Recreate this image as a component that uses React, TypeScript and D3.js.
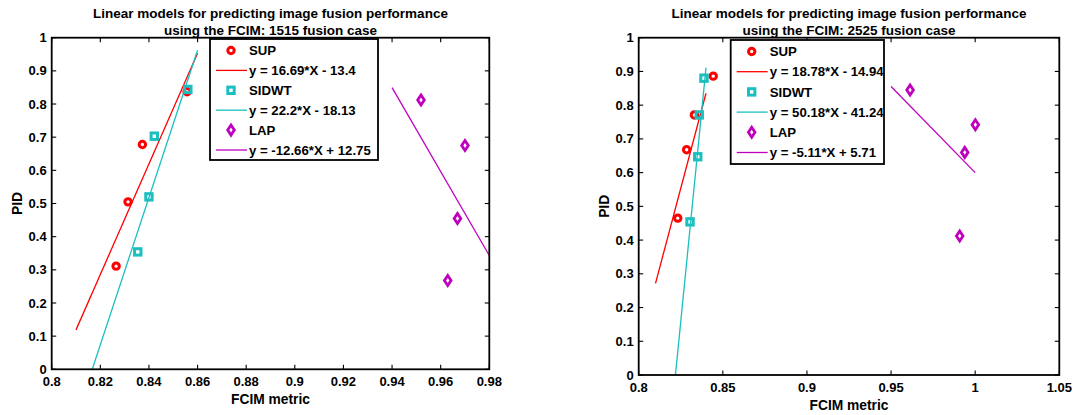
import React from "react";
import * as d3 from "d3";

// ---- data ----
const seriesNames = ["SUP", "SIDWT", "LAP"];
const seriesColors = ["#ff0000", "#1cbfbf", "#bf00bf"];

// Left chart (1515 fusion case)
const leftSupX = [0.8265, 0.8314, 0.8373, 0.8557];
const leftSupY = [0.311, 0.505, 0.678, 0.837];
const leftSidwtX = [0.8354, 0.840, 0.8422, 0.856];
const leftSidwtY = [0.354, 0.520, 0.703, 0.844];
const leftLapX = [0.9519, 0.9629, 0.9669, 0.970];
const leftLapY = [0.812, 0.268, 0.455, 0.675];
const leftFits = [
  { slope: 16.69, intercept: -13.4, x0: 0.81, x1: 0.86, label: "y = 16.69*X - 13.4" },
  { slope: 22.2, intercept: -18.13, x0: 0.81, x1: 0.86, label: "y = 22.2*X - 18.13" },
  { slope: -12.66, intercept: 12.75, x0: 0.94, x1: 0.98, label: "y = -12.66*X + 12.75" },
];
const leftXTicks = [0.8, 0.82, 0.84, 0.86, 0.88, 0.9, 0.92, 0.94, 0.96, 0.98];

// Right chart (2525 fusion case)
const rightSupX = [0.8232, 0.8285, 0.8331, 0.8443];
const rightSupY = [0.465, 0.668, 0.771, 0.886];
const rightSidwtX = [0.8305, 0.8351, 0.836, 0.8388];
const rightSidwtY = [0.454, 0.647, 0.771, 0.880];
const rightLapX = [0.9613, 0.9908, 0.9938, 1.0001];
const rightLapY = [0.845, 0.412, 0.660, 0.742];
const rightFits = [
  { slope: 18.78, intercept: -14.94, x0: 0.81, x1: 0.84, label: "y = 18.78*X - 14.94" },
  { slope: 50.18, intercept: -41.24, x0: 0.81, x1: 0.84, label: "y = 50.18*X - 41.24" },
  { slope: -5.11, intercept: 5.71, x0: 0.95, x1: 1.0, label: "y = -5.11*X + 5.71" },
];
const rightXTicks = [0.8, 0.85, 0.9, 0.95, 1, 1.05];

const yTicks = [0, 0.1, 0.2, 0.3, 0.4, 0.5, 0.6, 0.7, 0.8, 0.9, 1];

const FONT = "'Liberation Sans', Arial, sans-serif";

function Marker({ kind, x, y, color }: { kind: number; x: number; y: number; color: string }) {
  if (kind === 0) return <circle cx={x} cy={y} r={3.2} fill="none" stroke={color} strokeWidth={3} />;
  if (kind === 1) return <rect x={x - 3.2} y={y - 3.2} width={6.4} height={6.4} fill="none" stroke={color} strokeWidth={3} />;
  return (
    <path
      d={`M${x},${y - 5}L${x + 3.3},${y}L${x},${y + 5}L${x - 3.3},${y}Z`}
      fill="none"
      stroke={color}
      strokeWidth={2.8}
    />
  );
}

function Chart(props: {
  id: string;
  x0: number; x1: number; y0: number; y1: number;
  xDomain: [number, number];
  xTicks: number[];
  pts: [number[], number[]][];
  fits: typeof leftFits;
  titleLines: string[];
  legend: { x: number; y: number; w: number; h: number; row: number };
}) {
  const { id, x0, x1, y0, y1, xDomain, xTicks, pts, fits, titleLines, legend } = props;
  const xs = d3.scaleLinear().domain(xDomain).range([x0, x1]);
  const ys = d3.scaleLinear().domain([0, 1]).range([y0, y1]);
  const cx = (x0 + x1) / 2;
  const cy = (y0 + y1) / 2;
  const tl = 4.5;
  return (
    <g>
      <defs>
        <clipPath id={id}>
          <rect x={x0} y={y1} width={x1 - x0} height={y0 - y1} />
        </clipPath>
      </defs>
      {titleLines.map((t, i) => (
        <text key={i} x={cx} y={18.3 + i * 16.5} textAnchor="middle" fontFamily={FONT} fontWeight="bold" fontSize={13.5}>
          {t}
        </text>
      ))}
      {/* fit lines */}
      <g clipPath={`url(#${id})`}>
        {fits.map((f, i) => {
          const path = d3
            .line<number>()
            .x((v) => xs(v))
            .y((v) => ys(f.slope * v + f.intercept))([f.x0, f.x1]);
          return <path key={i} d={path || ""} fill="none" stroke={seriesColors[i]} strokeWidth={1.3} />;
        })}
      </g>
      {/* markers */}
      {pts.map(([px, py], si) =>
        px.map((v, j) => <Marker key={si + "-" + j} kind={si} x={xs(v)} y={ys(py[j])} color={seriesColors[si]} />)
      )}
      {/* axes box */}
      <rect x={x0} y={y1} width={x1 - x0} height={y0 - y1} fill="none" stroke="#000" strokeWidth={1.8} />
      {xTicks.map((t, i) => (
        <g key={"xt" + i}>
          <line x1={xs(t)} x2={xs(t)} y1={y0} y2={y0 - tl} stroke="#000" strokeWidth={1.1} />
          <line x1={xs(t)} x2={xs(t)} y1={y1} y2={y1 + tl} stroke="#000" strokeWidth={1.1} />
          <text x={xs(t)} y={y0 + 17} textAnchor="middle" fontFamily={FONT} fontWeight="bold" fontSize={13}>
            {d3.format("~g")(t)}
          </text>
        </g>
      ))}
      {yTicks.map((t, i) => (
        <g key={"yt" + i}>
          <line x1={x0} x2={x0 + tl} y1={ys(t)} y2={ys(t)} stroke="#000" strokeWidth={1.1} />
          <line x1={x1} x2={x1 - tl} y1={ys(t)} y2={ys(t)} stroke="#000" strokeWidth={1.1} />
          <text x={x0 - 5} y={ys(t) + 4.6} textAnchor="end" fontFamily={FONT} fontWeight="bold" fontSize={13}>
            {d3.format("~g")(t)}
          </text>
        </g>
      ))}
      <text x={cx} y={y0 + 35} textAnchor="middle" fontFamily={FONT} fontWeight="bold" fontSize={13.8}>
        FCIM metric
      </text>
      <text
        transform={`translate(${x0 - 30},${cy}) rotate(-90)`}
        textAnchor="middle"
        fontFamily={FONT}
        fontWeight="bold"
        fontSize={13.8}
      >
        PID
      </text>
      {/* legend */}
      <rect x={legend.x} y={legend.y} width={legend.w} height={legend.h} fill="#fff" stroke="#000" strokeWidth={1.8} />
      {seriesNames.map((n, i) => {
        const ry1 = legend.y + 11.5 + legend.row * (2 * i);
        const ry2 = ry1 + legend.row;
        return (
          <g key={"lg" + i}>
            <Marker kind={i} x={legend.x + 21} y={ry1} color={seriesColors[i]} />
            <text x={legend.x + 39} y={ry1 + 4.6} fontFamily={FONT} fontWeight="bold" fontSize={13.2}>
              {n}
            </text>
            <line x1={legend.x + 6} x2={legend.x + 37} y1={ry2} y2={ry2} stroke={seriesColors[i]} strokeWidth={1.3} />
            <text x={legend.x + 39} y={ry2 + 4.6} fontFamily={FONT} fontWeight="bold" fontSize={13.2}>
              {fits[i].label}
            </text>
          </g>
        );
      })}
    </g>
  );
}

export default function App() {
  return (
    <svg
      width={1077}
      height={415}
      style={{ position: "absolute", left: 0, top: 0, background: "#fff" }}
    >
      <rect x={0} y={0} width={1077} height={415} fill="#fff" />
      <Chart
        id="clipL"
        x0={51.7}
        x1={489.3}
        y0={369.3}
        y1={37.7}
        xDomain={[0.8, 0.98]}
        xTicks={leftXTicks}
        pts={[
          [leftSupX, leftSupY],
          [leftSidwtX, leftSidwtY],
          [leftLapX, leftLapY],
        ]}
        fits={leftFits}
        titleLines={["Linear models for predicting image fusion performance", "using the FCIM: 1515 fusion case"]}
        legend={{ x: 210, y: 39, w: 168, h: 121, row: 19.9 }}
      />
      <Chart
        id="clipR"
        x0={638.7}
        x1={1059.3}
        y0={375}
        y1={37.7}
        xDomain={[0.8, 1.05]}
        xTicks={rightXTicks}
        pts={[
          [rightSupX, rightSupY],
          [rightSidwtX, rightSidwtY],
          [rightLapX, rightLapY],
        ]}
        fits={rightFits}
        titleLines={["Linear models for predicting image fusion performance", "using the FCIM: 2525 fusion case"]}
        legend={{ x: 730.7, y: 40, w: 153.3, h: 124, row: 20.2 }}
      />
    </svg>
  );
}
